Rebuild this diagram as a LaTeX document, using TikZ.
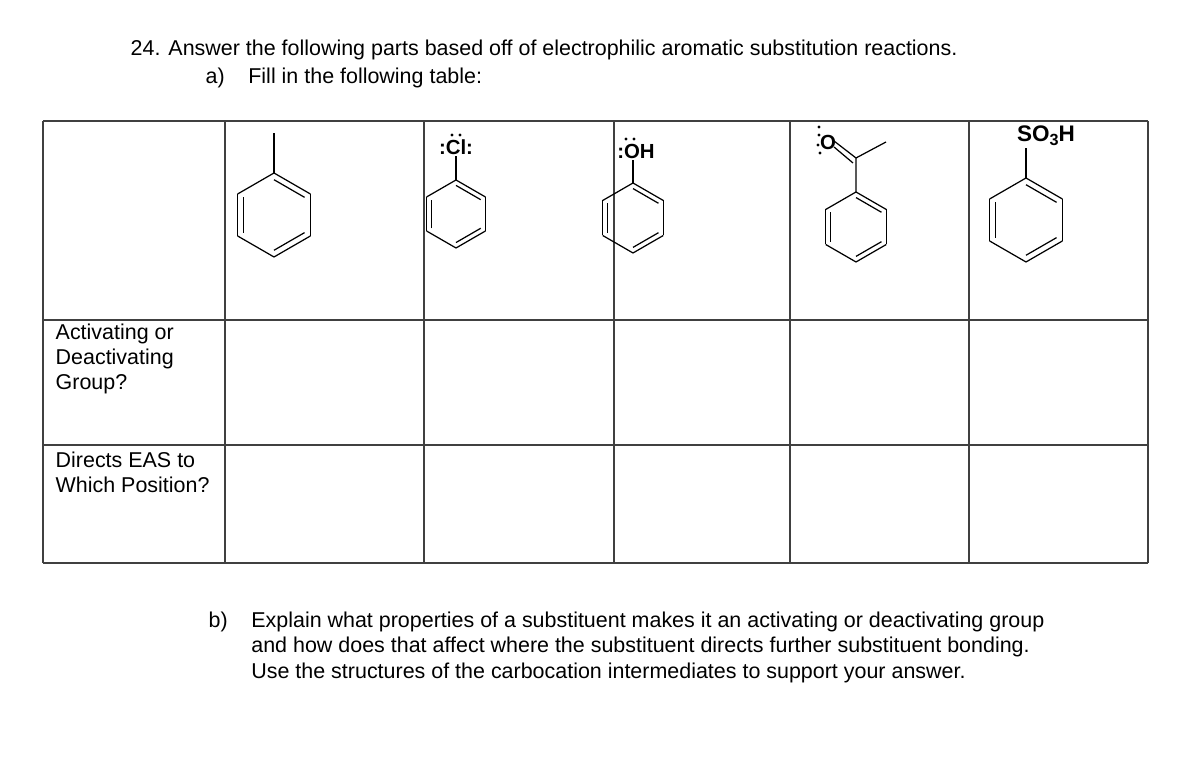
\documentclass[tikz,border=0pt]{standalone}
\usepackage{fontspec}
\setmainfont{Liberation Sans}
\usetikzlibrary{calc}
\tikzset{
    grid line/.style={draw=black!75, line width=0.35pt},
    bond/.style={line width=0.35pt},
    body text/.style={anchor=west, inner sep=0pt, font=\fontsize{6.1}{7.2}\selectfont},
    atom/.style={inner sep=0pt, font=\fontsize{5.8}{6}\selectfont\bfseries}
}
% benzene ring: centre x, centre y, radius (pixels)
\newcommand{\benzring}[3]{
    \foreach \a in {90,150,...,390}
        \draw[bond] ($(#1,#2)+(\a:#3)$) -- ($(#1,#2)+(\a+60:#3)$);
    \foreach \a in {30,150,270}
        \draw[bond] ($(#1,#2)+(\a:#3*0.84)$) -- ($(#1,#2)+(\a+60:#3*0.84)$);
}
\newcommand{\lonepair}[2]{\fill (#1) circle (1.6); \fill (#2) circle (1.6);}
\begin{document}
\begin{tikzpicture}[x=0.01cm, y=-0.01cm]
\useasboundingbox (0,0) rectangle (1178,768);

% Titel und Teilaufgabe a
\node[body text] (title) at (130,50) {24. Answer the following parts based off of electrophilic aromatic substitution reactions.};
\node[body text] (parta) at (205,78) {a)\hspace{1.1em}Fill in the following table:};

% Tabelle
\foreach \x in {43,225,424,614,790,969,1148}
    \draw[grid line] (\x,121) -- (\x,563);
\foreach \y in {121,320,445,563}
    \draw[grid line] (43,\y) -- (1148,\y);

\node[body text, align=left, anchor=north west] (rowone) at (55,323)
    {Activating or\\Deactivating\\Group?};
\node[body text, align=left, anchor=north west] (rowtwo) at (55,451)
    {Directs EAS to\\Which Position?};

% Toluol
\benzring{274}{215}{42}
\draw[bond] (274,173) -- (274,133);

% Chlorbenzol
\benzring{456}{214}{34}
\node[atom] (cl) at (456,147) {:Cl:};
\lonepair{452,135}{460,135}
\draw[bond] (456,180) -- (456,156);

% Phenol
\benzring{633}{218}{35}
\node[atom] (oh) at (636,151) {:OH};
\lonepair{626,139}{634,139}
\draw[bond] (633,183) -- (633,160);

% Acetophenon
\benzring{856}{227}{35}
\coordinate (carbonyl) at (856,158);
\coordinate (methyl) at (886,142);
\node[atom] (ox) at (828,142) {O};
\draw[bond] (856,192) -- (carbonyl) -- (methyl);
\draw[bond] (carbonyl) -- (834,141);
\draw[bond] ($(carbonyl)+(-3,5)$) -- (834,147);
\lonepair{819,135}{818,145}
\lonepair{820,153}{819,127}

% Benzolsulfonsäure
\benzring{1026}{220}{42}
\node[atom, font=\fontsize{6.4}{7}\selectfont\bfseries] (so) at (1046,136) {SO\raisebox{-0.3ex}{\fontsize{4.6}{5}\selectfont 3}H};
\draw[bond] (1026,178) -- (1026,148);

% Teilaufgabe b
\node[body text, anchor=north west, align=left] (partb) at (208,609)
    {b)\hspace{1.1em}\begin{tabular}[t]{@{}l@{}}Explain what properties of a substituent makes it an activating or deactivating group\\and how does that affect where the substituent directs further substituent bonding.\\Use the structures of the carbocation intermediates to support your answer.\end{tabular}};

\end{tikzpicture}
\end{document}
